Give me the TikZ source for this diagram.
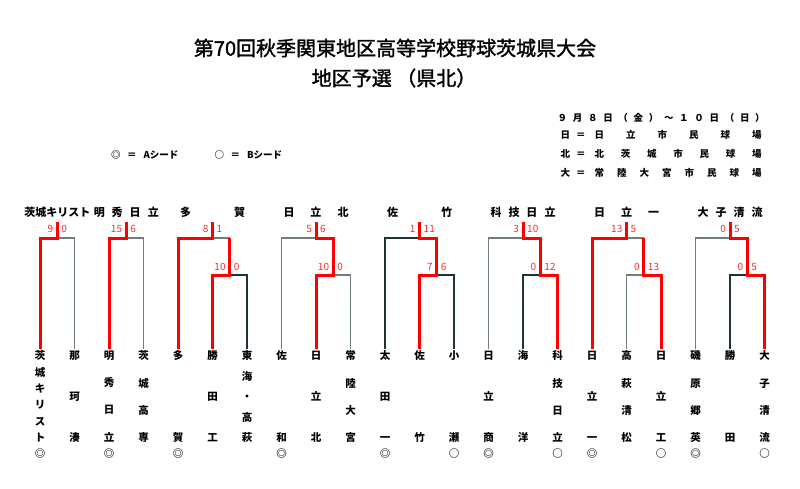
\documentclass[tikz,border=0pt]{standalone}
\usepackage{fontspec}
\setmainfont{Noto Sans CJK JP}
\newfontfamily\titlefont[FakeBold=1.5]{Noto Sans CJK JP}
\definecolor{lred}{HTML}{FF0000}
\definecolor{sred}{HTML}{FF2A2A}
\definecolor{lgray}{HTML}{6F7F7F}
\definecolor{ldark}{HTML}{1F3333}
\newcommand\teamfont[1]{\fontsize{10.5pt}{#1pt}\selectfont\bfseries}
\begin{document}
\begin{tikzpicture}[x=1pt,y=1pt,
  team/.style={anchor=north, inner sep=0pt, align=center},
  hdr/.style={inner sep=0pt, font=\fontsize{11pt}{13pt}\selectfont\bfseries},
  scl/.style={inner sep=0pt, anchor=east, text=sred, font=\fontsize{10pt}{12pt}\selectfont},
  scr/.style={inner sep=0pt, anchor=west, text=sred, font=\fontsize{10pt}{12pt}\selectfont},
  info/.style={inner sep=0pt, anchor=west, font=\fontsize{9.5pt}{11pt}\selectfont\bfseries},
  legend/.style={inner sep=0pt, anchor=west, font=\fontsize{9.5pt}{11pt}\selectfont\bfseries},
  gl/.style={draw=lgray, line width=1.5pt},
  dl/.style={draw=ldark, line width=1.5pt},
  rl/.style={draw=lred, line width=3pt}]
\fill[white] (0,0) rectangle (800,-488);
\useasboundingbox (0,0) rectangle (800,-488);

% titles
\node[inner sep=0pt, font=\titlefont\fontsize{20pt}{24pt}\selectfont] (title1) at (395,-48) {第70回秋季関東地区高等学校野球茨城県大会};
\node[inner sep=0pt, font=\titlefont\fontsize{20pt}{24pt}\selectfont] (title2) at (394,-78) {地区予選 （県北）};

% legend
\node[legend] (lgA) at (111,-155) {◎\hspace{6.5pt}＝\hspace{7pt}Aシード};
\node[legend] (lgB) at (214.3,-155) {○\hspace{6.5pt}＝\hspace{7pt}Bシード};

% info
\node[info] (info1) at (557.5,-117.5) {\makebox[207pt]{９\hfill 月\hfill ８\hfill 日\hfill （\hfill 金\hfill ）\hfill ～\hfill １\hfill ０\hfill 日\hfill （\hfill 日\hfill ）}};
\node[info] (info2) at (560.5,-134.5) {\makebox[201pt]{日\hspace{6pt}＝\hspace{9pt}日\hfill 立\hfill 市\hfill 民\hfill 球\hfill 場}};
\node[info] (info3) at (560.5,-153.5) {\makebox[201pt]{北\hspace{6pt}＝\hspace{9pt}北\hfill 茨\hfill 城\hfill 市\hfill 民\hfill 球\hfill 場}};
\node[info] (info4) at (560.5,-172.5) {\makebox[201pt]{大\hspace{6pt}＝\hspace{9pt}常\hfill 陸\hfill 大\hfill 宮\hfill 市\hfill 民\hfill 球\hfill 場}};

% headers
\node[hdr] (h1) at (57.25,-212) {\makebox[65pt]{茨\hfill 城\hfill キ\hfill リ\hfill ス\hfill ト}};
\node[hdr] (h2) at (126.25,-212) {\makebox[65pt]{明\hfill 秀\hfill 日\hfill 立}};
\node[hdr] (h3) at (212.5,-212) {\makebox[65pt]{多\hfill 賀}};
\node[hdr] (h4) at (316,-212) {\makebox[65pt]{日\hfill 立\hfill 北}};
\node[hdr] (h5) at (419.5,-212) {\makebox[65pt]{佐\hfill 竹}};
\node[hdr] (h6) at (523,-212) {\makebox[65pt]{科\hfill 技\hfill 日\hfill 立}};
\node[hdr] (h7) at (626.5,-212) {\makebox[65pt]{日\hfill 立\hfill 一}};
\node[hdr] (h8) at (730,-212) {\makebox[65pt]{大\hfill 子\hfill 清\hfill 流}};

% team bottoms
\foreach \i/\x in {0/40,1/74.5,2/109,3/143.5,4/178,5/212.5,6/247,7/281.5,8/316,9/350.5,10/385,11/419.5,12/454,13/488.5,14/523,15/557.5,16/592,17/626.5,18/661,19/695.5,20/730,21/764.5}
  \coordinate (b\i) at (\x,-349);

% teams
\node[team, font=\teamfont{16.4}] (t0) at (b0 |- 0,-350.5) {茨\\城\\キ\\リ\\ス\\ト\\[-0.4pt]◎};
\node[team, font=\teamfont{41}] (t1) at (b1 |- 0,-350.5) {那\\珂\\湊};
\node[team, font=\teamfont{27.33}] (t2) at (b2 |- 0,-350.5) {明\\秀\\日\\立\\[-11.33pt]◎};
\node[team, font=\teamfont{27.33}] (t3) at (b3 |- 0,-350.5) {茨\\城\\高\\専};
\node[team, font=\teamfont{82}] (t4) at (b4 |- 0,-350.5) {多\\賀\\[-66pt]◎};
\node[team, font=\teamfont{41}] (t5) at (b5 |- 0,-350.5) {勝\\田\\工};
\node[team, font=\teamfont{20.5}] (t6) at (b6 |- 0,-350.5) {東\\海\\・\\高\\萩};
\node[team, font=\teamfont{82}] (t7) at (b7 |- 0,-350.5) {佐\\和\\[-66pt]◎};
\node[team, font=\teamfont{41}] (t8) at (b8 |- 0,-350.5) {日\\立\\北};
\node[team, font=\teamfont{27.33}] (t9) at (b9 |- 0,-350.5) {常\\陸\\大\\宮};
\node[team, font=\teamfont{41}] (t10) at (b10 |- 0,-350.5) {太\\田\\一\\[-25pt]◎};
\node[team, font=\teamfont{82}] (t11) at (b11 |- 0,-350.5) {佐\\竹};
\node[team, font=\teamfont{82}] (t12) at (b12 |- 0,-350.5) {小\\瀬\\[-66pt]○};
\node[team, font=\teamfont{41}] (t13) at (b13 |- 0,-350.5) {日\\立\\商\\[-25pt]◎};
\node[team, font=\teamfont{82}] (t14) at (b14 |- 0,-350.5) {海\\洋};
\node[team, font=\teamfont{27.33}] (t15) at (b15 |- 0,-350.5) {科\\技\\日\\立\\[-11.33pt]○};
\node[team, font=\teamfont{41}] (t16) at (b16 |- 0,-350.5) {日\\立\\一\\[-25pt]◎};
\node[team, font=\teamfont{27.33}] (t17) at (b17 |- 0,-350.5) {高\\萩\\清\\松};
\node[team, font=\teamfont{41}] (t18) at (b18 |- 0,-350.5) {日\\立\\工\\[-25pt]○};
\node[team, font=\teamfont{27.33}] (t19) at (b19 |- 0,-350.5) {磯\\原\\郷\\英\\[-11.33pt]◎};
\node[team, font=\teamfont{82}] (t20) at (b20 |- 0,-350.5) {勝\\田};
\node[team, font=\teamfont{27.33}] (t21) at (b21 |- 0,-350.5) {大\\子\\清\\流\\[-11.33pt]○};

% match points
\foreach \k/\fx/\mx in {1/57.25/0,2/126.25/0,3/212.5/229.75,4/316/333.25,5/419.5/436.75,6/523/540.25,7/626.5/643.75,8/730/747.25}{
  \coordinate (f\k) at (\fx,-238);
  \coordinate (w\k) at (\fx,-222);
  \coordinate (m\k) at (\mx,-275);
  \coordinate (j\k) at (\mx,-238);
}

% scores
\node[scl] (s1a) at ([xshift=-4pt,yshift=9pt]f1) {9};
\node[scr] (s1b) at ([xshift=4pt,yshift=9pt]f1) {0};
\node[scl] (s2a) at ([xshift=-4pt,yshift=9pt]f2) {15};
\node[scr] (s2b) at ([xshift=4pt,yshift=9pt]f2) {6};
\node[scl] (s3a) at ([xshift=-4pt,yshift=9pt]f3) {8};
\node[scr] (s3b) at ([xshift=4pt,yshift=9pt]f3) {1};
\node[scl] (r3a) at ([xshift=-4pt,yshift=8pt]m3) {10};
\node[scr] (r3b) at ([xshift=4pt,yshift=8pt]m3) {0};
\node[scl] (s4a) at ([xshift=-4pt,yshift=9pt]f4) {5};
\node[scr] (s4b) at ([xshift=4pt,yshift=9pt]f4) {6};
\node[scl] (r4a) at ([xshift=-4pt,yshift=8pt]m4) {10};
\node[scr] (r4b) at ([xshift=4pt,yshift=8pt]m4) {0};
\node[scl] (s5a) at ([xshift=-4pt,yshift=9pt]f5) {1};
\node[scr] (s5b) at ([xshift=4pt,yshift=9pt]f5) {11};
\node[scl] (r5a) at ([xshift=-4pt,yshift=8pt]m5) {7};
\node[scr] (r5b) at ([xshift=4pt,yshift=8pt]m5) {6};
\node[scl] (s6a) at ([xshift=-4pt,yshift=9pt]f6) {3};
\node[scr] (s6b) at ([xshift=4pt,yshift=9pt]f6) {10};
\node[scl] (r6a) at ([xshift=-4pt,yshift=8pt]m6) {0};
\node[scr] (r6b) at ([xshift=4pt,yshift=8pt]m6) {12};
\node[scl] (s7a) at ([xshift=-4pt,yshift=9pt]f7) {13};
\node[scr] (s7b) at ([xshift=4pt,yshift=9pt]f7) {5};
\node[scl] (r7a) at ([xshift=-4pt,yshift=8pt]m7) {0};
\node[scr] (r7b) at ([xshift=4pt,yshift=8pt]m7) {13};
\node[scl] (s8a) at ([xshift=-4pt,yshift=9pt]f8) {0};
\node[scr] (s8b) at ([xshift=4pt,yshift=9pt]f8) {5};
\node[scl] (r8a) at ([xshift=-4pt,yshift=8pt]m8) {0};
\node[scr] (r8b) at ([xshift=4pt,yshift=8pt]m8) {5};

% losing lines
\draw[gl] (b1) |- (f1);
\draw[gl] (b3) |- (f2);
\draw[dl] (b6) |- (m3);
\draw[gl] (f3) -- (j3);
\draw[gl] (b7) |- (f4);
\draw[gl] (b9) |- (m4);
\draw[dl] (b10) |- (f5);
\draw[dl] (b12) |- (m5);
\draw[gl] (b13) |- (f6);
\draw[dl] (b14) |- (m6);
\draw[gl] (b17) |- (m7);
\draw[gl] (f7) -- (j7);
\draw[gl] (b19) |- (f8);
\draw[dl] (b20) |- (m8);

% winning lines
\draw[rl] (b0) |- (f1) -- (w1);
\draw[rl] (b2) |- (f2) -- (w2);
\draw[rl] (b4) |- (f3) -- (w3);
\draw[rl] (b5) |- (m3) -- (j3);
\draw[rl] (b8) |- (m4) -- (j4) -- (f4) -- (w4);
\draw[rl] (b11) |- (m5) -- (j5) -- (f5) -- (w5);
\draw[rl] (b15) |- (m6) -- (j6) -- (f6) -- (w6);
\draw[rl] (b16) |- (f7) -- (w7);
\draw[rl] (b18) |- (m7) -- (j7);
\draw[rl] (b21) |- (m8) -- (j8) -- (f8) -- (w8);
\end{tikzpicture}
\end{document}
